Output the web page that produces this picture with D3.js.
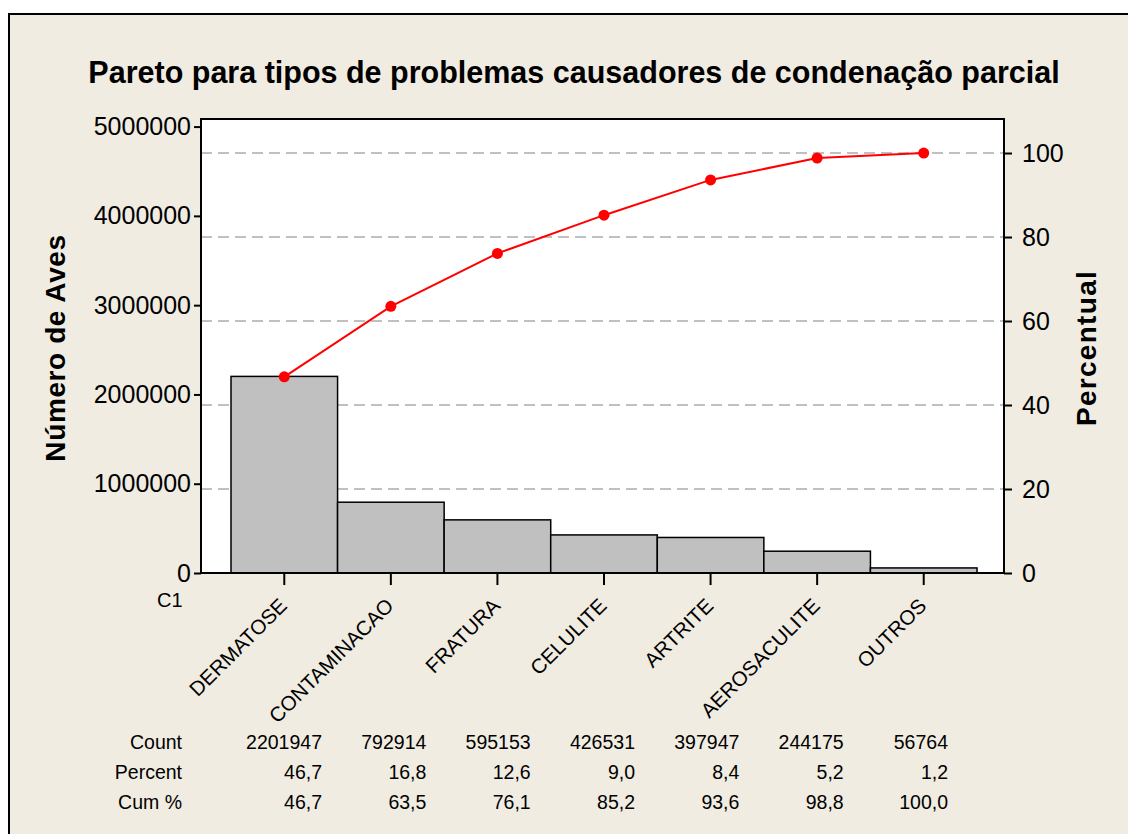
<!DOCTYPE html>
<html lang="pt">
<head>
  <meta charset="UTF-8">
  <title>Pareto para tipos de problemas</title>
  <script src="https://cdn.jsdelivr.net/npm/d3@7"></script>
  <style>
    body { margin: 0; background: #fff; }
    svg { display: block; font-family: "Liberation Sans", Arial, sans-serif; }
    .axis text { fill: #000; }
  </style>
</head>
<body>
  <div id="chart"></div>
  <script>
    // Data
    const categories = ["DERMATOSE", "CONTAMINACAO", "FRATURA", "CELULITE", "ARTRITE", "AEROSACULITE", "OUTROS"];
    const counts = [2201947, 792914, 595153, 426531, 397947, 244175, 56764];
    const percents = ["46,7", "16,8", "12,6", "9,0", "8,4", "5,2", "1,2"];
    const cumPercents = [46.7, 63.5, 76.1, 85.2, 93.6, 98.8, 100.0];
    const countTicks = [0, 1000000, 2000000, 3000000, 4000000, 5000000];
    const percentTicks = [0, 20, 40, 60, 80, 100];

    const W = 1128, H = 834;
    const plot = { left: 201, top: 119, right: 1004, bottom: 573 };

    const svg = d3.select("#chart").append("svg")
      .attr("width", W)
      .attr("height", H);

    // outer frame
    svg.append("rect")
      .attr("x", 9).attr("y", 14)
      .attr("width", W + 10).attr("height", H + 10)
      .attr("fill", "#F0ECE2")
      .attr("stroke", "#000")
      .attr("stroke-width", 2);

    svg.append("text")
      .attr("x", 574).attr("y", 83)
      .attr("text-anchor", "middle")
      .attr("font-size", 30.5)
      .attr("font-weight", "bold")
      .text("Pareto para tipos de problemas causadores de condenação parcial");

    // scales
    const x = d3.scaleBand()
      .domain(categories)
      .range([plot.left + 30, plot.right - 27])
      .padding(0);

    const yCount = d3.scaleLinear()
      .domain([0, 5085000])
      .range([plot.bottom, plot.top]);

    const yPct = d3.scaleLinear()
      .domain([0, 108.1])
      .range([plot.bottom, plot.top]);

    const tableCol = d3.scalePoint()
      .domain(categories)
      .range([322, 948]);

    // plot background
    svg.append("rect")
      .attr("x", plot.left).attr("y", plot.top)
      .attr("width", plot.right - plot.left)
      .attr("height", plot.bottom - plot.top)
      .attr("fill", "#fff");

    // gridlines
    svg.append("g")
      .selectAll("line")
      .data(percentTicks.filter(d => d > 0))
      .join("line")
      .attr("x1", plot.left).attr("x2", plot.right)
      .attr("y1", d => yPct(d)).attr("y2", d => yPct(d))
      .attr("stroke", "#C0C0C0")
      .attr("stroke-width", 2)
      .attr("stroke-dasharray", "11,6");

    // bars
    svg.append("g")
      .selectAll("rect")
      .data(categories)
      .join("rect")
      .attr("x", d => x(d))
      .attr("y", (d, i) => yCount(counts[i]))
      .attr("width", x.bandwidth())
      .attr("height", (d, i) => yCount(0) - yCount(counts[i]))
      .attr("fill", "#C0C0C0")
      .attr("stroke", "#000")
      .attr("stroke-width", 1.5);

    // plot border
    svg.append("rect")
      .attr("x", plot.left).attr("y", plot.top)
      .attr("width", plot.right - plot.left)
      .attr("height", plot.bottom - plot.top)
      .attr("fill", "none")
      .attr("stroke", "#000")
      .attr("stroke-width", 2);

    // cumulative line
    const line = d3.line()
      .x((d, i) => x(categories[i]) + x.bandwidth() / 2)
      .y(d => yPct(d));

    svg.append("path")
      .datum(cumPercents)
      .attr("d", line)
      .attr("fill", "none")
      .attr("stroke", "#FF0000")
      .attr("stroke-width", 2);

    svg.append("g")
      .selectAll("circle")
      .data(cumPercents)
      .join("circle")
      .attr("cx", (d, i) => x(categories[i]) + x.bandwidth() / 2)
      .attr("cy", d => yPct(d))
      .attr("r", 5.5)
      .attr("fill", "#FF0000");

    // axes
    const leftAxis = svg.append("g")
      .attr("class", "axis")
      .attr("transform", `translate(${plot.left},0)`)
      .call(d3.axisLeft(yCount).tickValues(countTicks).tickFormat(d3.format("d")).tickSize(7).tickPadding(3));
    leftAxis.select(".domain").remove();
    leftAxis.selectAll("line").attr("stroke-width", 2);
    leftAxis.selectAll("text").attr("font-size", 25);

    const rightAxis = svg.append("g")
      .attr("class", "axis")
      .attr("transform", `translate(${plot.right},0)`)
      .call(d3.axisRight(yPct).tickValues(percentTicks).tickSize(8).tickPadding(10));
    rightAxis.select(".domain").remove();
    rightAxis.selectAll("line").attr("stroke-width", 2);
    rightAxis.selectAll("text").attr("font-size", 25);

    const bottomAxis = svg.append("g")
      .attr("class", "axis")
      .attr("transform", `translate(0,${plot.bottom})`)
      .call(d3.axisBottom(x).tickSize(12).tickSizeOuter(0));
    bottomAxis.select(".domain").remove();
    bottomAxis.selectAll("line").attr("stroke-width", 2);
    bottomAxis.selectAll("text")
      .attr("font-size", 20.5)
      .attr("text-anchor", "end")
      .attr("dy", null)
      .attr("y", 0)
      .attr("transform", "translate(4,34) rotate(-45)");

    svg.append("text")
      .attr("x", 157).attr("y", 607)
      .attr("font-size", 20)
      .text("C1");

    // axis titles
    svg.append("text")
      .attr("transform", "translate(65,348) rotate(-90)")
      .attr("text-anchor", "middle")
      .attr("font-size", 28)
      .attr("letter-spacing", 0.6)
      .attr("font-weight", "bold")
      .text("Número de Aves");

    svg.append("text")
      .attr("transform", "translate(1096,348) rotate(-90)")
      .attr("text-anchor", "middle")
      .attr("font-size", 28)
      .attr("letter-spacing", 1.3)
      .attr("font-weight", "bold")
      .text("Percentual");

    // summary table
    const rows = [
      { label: "Count", values: counts.map(String), y: 749 },
      { label: "Percent", values: percents, y: 779 },
      { label: "Cum %", values: cumPercents.map(d => d.toFixed(1).replace(".", ",")), y: 809 }
    ];

    const table = svg.append("g").attr("font-size", 19.5);
    rows.forEach(r => {
      table.append("text")
        .attr("x", 182).attr("y", r.y)
        .attr("text-anchor", "end")
        .text(r.label);
      table.append("g")
        .selectAll("text")
        .data(categories)
        .join("text")
        .attr("x", d => tableCol(d))
        .attr("y", r.y)
        .attr("text-anchor", "end")
        .text((d, i) => r.values[i]);
    });
  </script>
</body>
</html>
